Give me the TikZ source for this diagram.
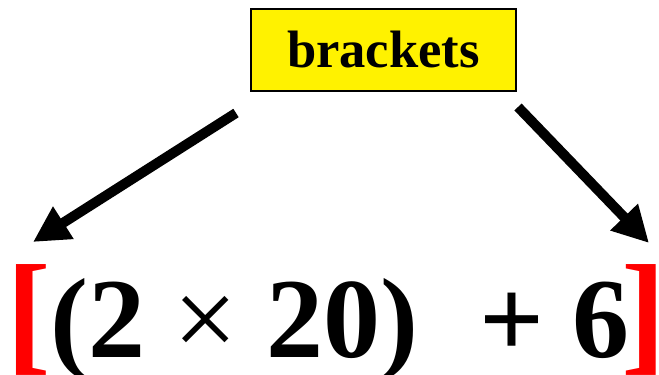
\documentclass[tikz,border=0pt]{standalone}
\usepackage{fontspec}
\setmainfont{Liberation Serif}
\usetikzlibrary{arrows.meta}
\tikzset{
  bigtext/.style={anchor=base west, inner sep=0pt, font=\fontsize{57pt}{60pt}\selectfont\bfseries},
  redbracket/.style={anchor=base west, inner sep=0pt, text=red, font=\fontsize{67pt}{70pt}\selectfont\bfseries},
  fatarrow/.style={line width=5pt, -{Triangle[length=18pt,width=18pt]}}
}

\begin{document}
\begin{tikzpicture}[x=0.5pt, y=-0.5pt]
		\useasboundingbox (0,0) rectangle (659,375);
		\node[draw=black, line width=0.6pt, fill=yellow, minimum width=132.5pt, minimum height=41pt, inner sep=0pt, font=\fontsize{26.3pt}{28pt}\selectfont\bfseries] (label) at (383.5,50){brackets};
		\node[redbracket] (lbr) at (6,357){[};
		\node[bigtext] (prod) at (50,357){(2 {\mdseries ×} 20)};
		\node[bigtext] (sum) at (479,357){+ 6};
		\node[redbracket] (rbr) at (621,357){]};
		\coordinate (l0) at (236,113);
		\coordinate (l1) at (33,242);
		\coordinate (r0) at (518,107);
		\coordinate (r1) at (649,243);
		\draw[fatarrow] (l0) -- (l1);
		\draw[fatarrow] (r0) -- (r1);
		\end{tikzpicture}
\end{document}
